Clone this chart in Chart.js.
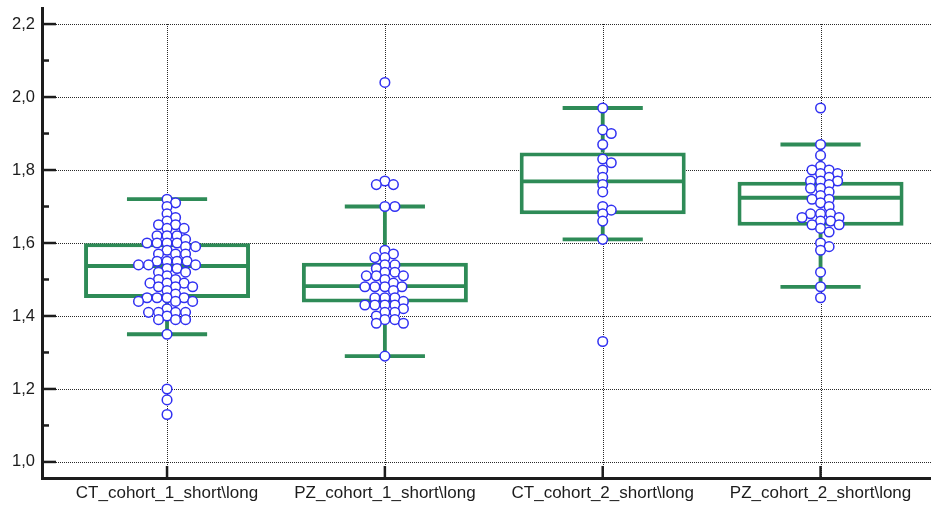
<!DOCTYPE html>
<html>
<head>
<meta charset="utf-8">
<script src="https://cdn.jsdelivr.net/npm/chart.js@4.4.1/dist/chart.umd.min.js"></script>
<style>
  html, body { margin: 0; padding: 0; background: #ffffff; }
  #wrap { width: 931px; height: 506px; }
</style>
</head>
<body>
<div id="wrap"><canvas id="c" width="931" height="506"></canvas></div>
<script>
// ---- data -------------------------------------------------------------
const categories = [
  'CT_cohort_1_short\\long',
  'PZ_cohort_1_short\\long',
  'CT_cohort_2_short\\long',
  'PZ_cohort_2_short\\long'
];

const ctCohort1 = [1.72, 1.71, 1.70, 1.68, 1.67, 1.66, 1.65, 1.65, 1.64, 1.64, 1.62, 1.62, 1.62, 1.61,
  1.60, 1.60, 1.60, 1.60, 1.59, 1.59, 1.58, 1.57, 1.57, 1.57, 1.55, 1.55, 1.55, 1.55, 1.54, 1.54, 1.54,
  1.53, 1.53, 1.52, 1.52, 1.51, 1.50, 1.50, 1.49, 1.49, 1.49, 1.48, 1.48, 1.48, 1.47, 1.46, 1.45, 1.45,
  1.45, 1.45, 1.44, 1.44, 1.44, 1.42, 1.41, 1.41, 1.41, 1.41, 1.40, 1.39, 1.39, 1.39, 1.35, 1.20, 1.17, 1.13];
const pzCohort1 = [2.04, 1.77, 1.76, 1.76, 1.70, 1.70, 1.58, 1.57, 1.56, 1.56, 1.54, 1.54, 1.53, 1.52,
  1.52, 1.51, 1.51, 1.51, 1.50, 1.49, 1.48, 1.48, 1.48, 1.48, 1.47, 1.45, 1.45, 1.45, 1.44, 1.43, 1.43,
  1.43, 1.43, 1.42, 1.41, 1.41, 1.40, 1.39, 1.39, 1.38, 1.38, 1.29];
const ctCohort2 = [1.97, 1.91, 1.90, 1.87, 1.83, 1.82, 1.80, 1.78, 1.76, 1.74, 1.70, 1.69, 1.68, 1.66, 1.61, 1.33];
const pzCohort2 = [1.97, 1.87, 1.84, 1.81, 1.80, 1.80, 1.79, 1.79, 1.78, 1.77, 1.77, 1.77, 1.76, 1.75,
  1.75, 1.74, 1.73, 1.72, 1.72, 1.71, 1.70, 1.68, 1.68, 1.68, 1.67, 1.67, 1.66, 1.66, 1.65, 1.65, 1.64,
  1.63, 1.60, 1.59, 1.58, 1.52, 1.48, 1.45];

const groupValues = [ctCohort1, pzCohort1, ctCohort2, pzCohort2];

// box-and-whisker summary per group
const lowerWhisker  = [1.35, 1.29, 1.61, 1.48];
const lowerQuartile = [1.449, 1.437, 1.679, 1.647];
const medians       = [1.537, 1.482, 1.769, 1.724];
const upperQuartile = [1.599, 1.546, 1.848, 1.768];
const upperWhisker  = [1.72, 1.70, 1.97, 1.87];

// value axis ticks
const yLabelTicks = [1.0, 1.2, 1.4, 1.6, 1.8, 2.0, 2.2];
const yMinorTicks = [1.1, 1.3, 1.5, 1.7, 1.9, 2.1];

// ---- style ------------------------------------------------------------
const GREEN = '#2e8b57';
const BLUE = '#3030f2';
const INK = '#1c1c1c';
const GRID = '#2a2a2a';
const FONT = "'Liberation Sans', Arial, sans-serif";
const BOX_HALF = 0.37;   // half box width, in category units
const CAP_HALF = 0.184;  // half whisker-cap width, in category units
const SWARM_DX = 10;     // horizontal spacing of touching dots (px)
const SWARM_DY = 7.0;    // vertical clearance before dots need to move aside (px)

// polyline pieces separated by gaps
function segments(pairs) {
  const out = [];
  pairs.forEach(([a, b]) => { out.push(a, b, { x: a.x, y: null }); });
  return out;
}

const medianData = segments(medians.map((m, i) => [{ x: i - BOX_HALF, y: m }, { x: i + BOX_HALF, y: m }]));
const whiskerData = segments(categories.flatMap((c, i) => [
  [{ x: i, y: upperQuartile[i] }, { x: i, y: upperWhisker[i] }],
  [{ x: i, y: lowerQuartile[i] }, { x: i, y: lowerWhisker[i] }]
]));
const capData = segments(categories.flatMap((c, i) => [
  [{ x: i - CAP_HALF, y: upperWhisker[i] }, { x: i + CAP_HALF, y: upperWhisker[i] }],
  [{ x: i - CAP_HALF, y: lowerWhisker[i] }, { x: i + CAP_HALF, y: lowerWhisker[i] }]
]));
const boxData = categories.map((c, i) => ({ x: i, y: [lowerQuartile[i], upperQuartile[i]] }));

const dotSets = groupValues.map((vals, i) => ({
  type: 'scatter',
  data: vals.map(v => ({ x: i, y: v })),
  pointRadius: 4.8,
  pointBorderWidth: 1.5,
  pointBorderColor: BLUE,
  pointBackgroundColor: '#ffffff',
  pointHoverRadius: 4.8,
  order: 0
}));

// dotted grid + inward tick marks
const axisDecor = {
  id: 'axisDecor',
  beforeDatasetsDraw(chart) {
    const { ctx, chartArea: area, scales: { x, y } } = chart;
    ctx.save();
    ctx.lineWidth = 1;
    ctx.strokeStyle = GRID;
    ctx.setLineDash([1, 1]);
    yLabelTicks.forEach(v => {
      const py = Math.round(y.getPixelForValue(v)) + 0.5;
      ctx.beginPath(); ctx.moveTo(area.left + 2, py); ctx.lineTo(area.right, py); ctx.stroke();
    });
    const top = Math.round(y.getPixelForValue(yLabelTicks[yLabelTicks.length - 1]));
    categories.forEach((c, i) => {
      const px = Math.round(x.getPixelForValue(i)) + 0.5;
      ctx.beginPath(); ctx.moveTo(px, top); ctx.lineTo(px, area.bottom); ctx.stroke();
    });
    ctx.restore();
  },
  afterDatasetsDraw(chart) {
    const { ctx, chartArea: area, scales: { x, y } } = chart;
    ctx.save();
    ctx.strokeStyle = INK;
    ctx.lineWidth = 2.5;
    const tick = (x1, y1, x2, y2) => { ctx.beginPath(); ctx.moveTo(x1, y1); ctx.lineTo(x2, y2); ctx.stroke(); };
    yLabelTicks.forEach(v => { const py = y.getPixelForValue(v); tick(area.left, py, area.left + 14, py); });
    yMinorTicks.forEach(v => { const py = y.getPixelForValue(v); tick(area.left, py, area.left + 7, py); });
    categories.forEach((c, i) => { const px = x.getPixelForValue(i); tick(px, area.bottom, px, area.bottom - 12); });
    ctx.restore();
  }
};

const chart = new Chart(document.getElementById('c'), {
  type: 'bar',
  data: {
    datasets: [
      ...dotSets,
      { type: 'line', data: medianData, borderColor: GREEN, borderWidth: 3.8, pointRadius: 0, borderCapStyle: 'butt', order: 1 },
      { type: 'bar', data: boxData, backgroundColor: '#ffffff', borderColor: GREEN, borderWidth: 4,
        borderSkipped: false, barThickness: 166, inflateAmount: 0, order: 2 },
      { type: 'line', data: whiskerData, borderColor: GREEN, borderWidth: 3.8, pointRadius: 0, borderCapStyle: 'butt', order: 3 },
      { type: 'line', data: capData, borderColor: GREEN, borderWidth: 3.8, pointRadius: 0, borderCapStyle: 'butt', order: 3 }
    ]
  },
  options: {
    responsive: false,
    devicePixelRatio: 1,
    animation: false,
    events: [],
    layout: { autoPadding: false, padding: { top: 8, left: 0, right: 0, bottom: 0 } },
    plugins: { legend: { display: false }, tooltip: { enabled: false }, title: { display: false } },
    scales: {
      x: {
        type: 'linear',
        offset: false,
        bounds: 'data',
        min: -0.574,
        max: 3.507,
        grid: { display: true, drawOnChartArea: false, drawTicks: false, offset: false },
        border: { display: true, color: INK, width: 3 },
        ticks: {
          autoSkip: false, maxRotation: 0, minRotation: 0, padding: 5,
          color: INK, font: { family: FONT, size: 17 },
          callback: v => categories[v]
        },
        afterBuildTicks: s => { s.ticks = categories.map((c, i) => ({ value: i })); },
        afterFit: s => { s.height = 28; s.paddingLeft = 0; s.paddingRight = 0; }
      },
      y: {
        type: 'linear',
        beginAtZero: false,
        bounds: 'data',
        min: 0.956,
        max: 2.244,
        grid: { display: true, drawOnChartArea: false, drawTicks: false },
        border: { display: true, color: INK, width: 3 },
        ticks: {
          padding: 7,
          color: INK, font: { family: FONT, size: 16.5 },
          callback: v => v.toFixed(1).replace('.', ',')
        },
        afterBuildTicks: s => { s.ticks = yLabelTicks.map(v => ({ value: v })); },
        afterFit: s => { s.width = 42; s.paddingTop = 0; s.paddingBottom = 0; }
      }
    }
  },
  plugins: [axisDecor]
});

// spread equal-ish values sideways (beeswarm), measured in screen pixels
function swarmOffsets(values, yScale) {
  const order = values.map((v, k) => k).sort((a, b) => values[b] - values[a]);
  const placed = [];
  const offsets = new Array(values.length);
  const clash = (p, cx, cy) => {
    const ex = (p.x - cx) / SWARM_DX, ey = (p.y - cy) / SWARM_DY;
    return ex * ex + ey * ey < 0.999;
  };
  order.forEach(k => {
    const py = yScale.getPixelForValue(values[k]);
    const near = placed.filter(p => Math.abs(p.y - py) < SWARM_DY);
    const cands = [0];
    near.forEach(p => {
      const r = (p.y - py) / SWARM_DY;
      const dx = SWARM_DX * Math.sqrt(Math.max(0, 1 - r * r));
      cands.push(p.x + dx, p.x - dx);
    });
    cands.sort((a, b) => Math.abs(a) - Math.abs(b));
    const px = cands.find(c => near.every(p => !clash(p, c, py)));
    placed.push({ x: px, y: py });
    offsets[k] = px;
  });
  return offsets;
}

const xs = chart.scales.x, ys = chart.scales.y;
groupValues.forEach((vals, i) => {
  const offs = swarmOffsets(vals, ys);
  const cx = xs.getPixelForValue(i);
  chart.data.datasets[i].data = vals.map((v, k) => ({ x: xs.getValueForPixel(cx + offs[k]), y: v }));
});
chart.update('none');
</script>
</body>
</html>
